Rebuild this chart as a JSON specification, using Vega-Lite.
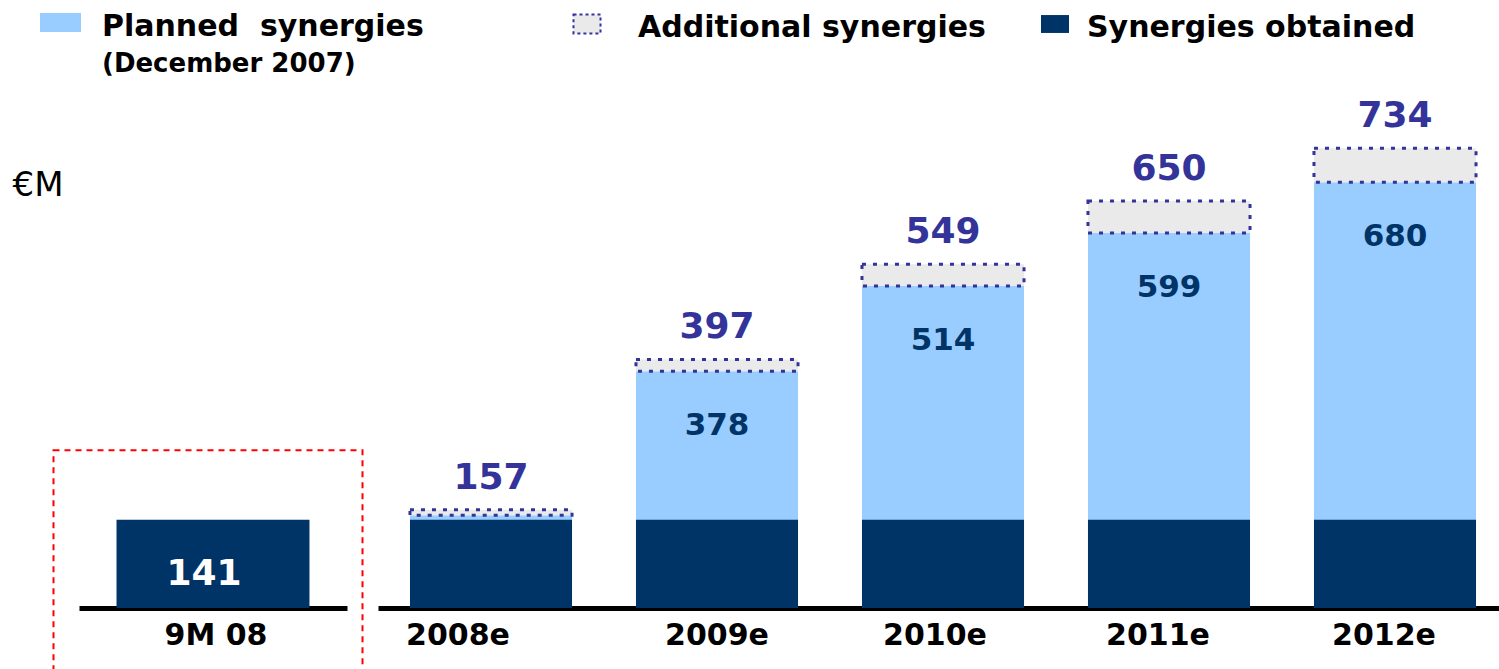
{
  "$schema": "https://vega.github.io/schema/vega-lite/v6.json",
  "padding": {"left": 12, "top": 2, "right": 0, "bottom": 0},
  "background": "white",
  "bounds": "flush",
  "spacing": 31,
  "config": {"view": {"stroke": null}, "font": "DejaVu Sans"},
  "datasets": {
    "ytd": [{"period": "9M 08", "obtained": 141}],
    "plan": [
      {"period": "2008e", "obtained": 141, "planned": 148, "total": 157},
      {"period": "2009e", "obtained": 141, "planned": 378, "total": 397},
      {"period": "2010e", "obtained": 141, "planned": 514, "total": 549},
      {"period": "2011e", "obtained": 141, "planned": 599, "total": 650},
      {"period": "2012e", "obtained": 141, "planned": 680, "total": 734}
    ]
  },
  "hconcat": [
    {
      "width": 268,
      "height": 501,
      "data": {"name": "ytd"},
      "encoding": {
        "x": {
          "field": "period", "type": "nominal",
          "scale": {"paddingInner": 0, "paddingOuter": 0},
          "axis": {"title": null, "labelAngle": 0, "labelFont": "DejaVu Sans", "labelFontWeight": "bold", "labelFontSize": 30, "labelColor": "black", "labelPadding": 12, "labelBaseline": "top", "ticks": false, "domainColor": "black", "domainWidth": 5, "labelOffset": 3}
        }
      },
      "layer": [
        {
          "mark": {"type": "bar", "fill": "transparent", "stroke": "#FF0000", "strokeWidth": 2, "strokeDash": [6, 5], "width": {"band": 1.153}, "xOffset": -5},
          "encoding": {
            "y": {"datum": 252, "type": "quantitative", "scale": {"domain": [0, 800], "nice": false},
              "axis": {"title": "€M", "titleAngle": 0, "titleX": -67, "titleY": 78, "titleAlign": "left", "titleBaseline": "middle", "titleFont": "DejaVu Sans", "titleFontWeight": "normal", "titleFontSize": 34, "titleColor": "black", "labels": false, "ticks": false, "domain": false, "grid": false}},
            "y2": {"datum": -160}
          }
        },
        {
          "mark": {"type": "bar", "color": "#003366", "width": {"band": 0.72}},
          "encoding": {
            "y": {"field": "obtained", "type": "quantitative", "scale": {"domain": [0, 800], "nice": false},
              "axis": {"title": "€M", "titleAngle": 0, "titleX": -67, "titleY": 78, "titleAlign": "left", "titleBaseline": "middle", "titleFont": "DejaVu Sans", "titleFontWeight": "normal", "titleFontSize": 34, "titleColor": "black", "labels": false, "ticks": false, "domain": false, "grid": false}}
          }
        },
        {
          "mark": {"type": "text", "color": "white", "fontSize": 36, "fontWeight": "bold", "font": "DejaVu Sans", "dy": 54, "dx": -9, "baseline": "middle"},
          "encoding": {
            "y": {"field": "obtained", "type": "quantitative"},
            "text": {"field": "obtained"}
          }
        }
      ]
    },
    {
      "width": 1130,
      "height": 501,
      "data": {"name": "plan"},
      "encoding": {
        "x": {
          "field": "period", "type": "nominal",
          "scale": {"paddingInner": 0, "paddingOuter": 0},
          "axis": {"title": null, "labelAngle": 0, "labelFont": "DejaVu Sans", "labelFontWeight": "bold", "labelFontSize": 30, "labelColor": "black", "labelPadding": 12, "labelBaseline": "top", "ticks": false, "domainColor": "black", "domainWidth": 5,
            "labelOffset": {"condition": [{"test": "datum.value === '2008e'", "value": -33}, {"test": "datum.value === '2010e'", "value": -8}, {"test": "datum.value === '2011e' || datum.value === '2012e'", "value": -11}], "value": 0}}
        }
      },
      "layer": [
        {
          "mark": {"type": "bar", "width": {"band": 0.717}},
          "encoding": {
            "y": {"field": "planned", "type": "quantitative", "scale": {"domain": [0, 800], "nice": false}, "axis": null},
            "fill": {"datum": "Planned\u00a0 synergies", "type": "nominal", "scale": {"range": ["#99CCFF"]},
              "legend": {"orient": "none", "legendX": -338, "legendY": -105, "title": "(December 2007)", "titleOrient": "bottom", "titleAnchor": "start", "titleFont": "DejaVu Sans", "titleFontSize": 26, "titleFontWeight": "bold", "titleColor": "black", "titlePadding": 4, "titleLimit": 1000,
                "symbolType": "M-1,-0.46H1V0.46H-1Z", "symbolSize": 1681, "symbolStrokeWidth": 0,
                "labelFont": "DejaVu Sans", "labelFontWeight": "bold", "labelFontSize": 30, "labelColor": "black", "labelOffset": 21, "labelLimit": 1000,
                "encode": {"title": {"update": {"dx": {"value": 62}, "dy": {"value": 5}}}, "labels": {"update": {"dy": {"value": 4}}}}}}
          }
        },
        {
          "mark": {"type": "bar", "width": {"band": 0.717}, "stroke": "#333399", "strokeWidth": 3, "strokeDash": [4, 7]},
          "encoding": {
            "y": {"field": "total", "type": "quantitative", "axis": null},
            "y2": {"field": "planned"},
            "fill": {"datum": "Additional synergies", "type": "nominal", "scale": {"range": ["#EAEAEA"]},
              "legend": {"orient": "none", "legendX": 194, "legendY": -98, "title": null,
                "symbolType": "M-1,-0.7H1V0.7H-1Z", "symbolSize": 729, "symbolStrokeColor": "#333399", "symbolStrokeWidth": 2, "symbolDash": [3, 3],
                "labelFont": "DejaVu Sans", "labelFontWeight": "bold", "labelFontSize": 30, "labelColor": "black", "labelOffset": 36, "labelLimit": 1000,
                "encode": {"labels": {"update": {"dy": {"value": 4}}}}}}
          }
        },
        {
          "mark": {"type": "text", "color": "#003366", "fontSize": 31, "fontWeight": "bold", "font": "DejaVu Sans", "dy": 55, "baseline": "middle"},
          "encoding": {
            "y": {"field": "planned", "type": "quantitative", "axis": null},
            "text": {"field": "planned"}
          }
        },
        {
          "mark": {"type": "bar", "width": {"band": 0.717}},
          "encoding": {
            "y": {"field": "obtained", "type": "quantitative", "axis": null},
            "fill": {"datum": "Synergies obtained", "type": "nominal", "scale": {"range": ["#003366"]},
              "legend": {"orient": "none", "legendX": 662, "legendY": -98, "title": null,
                "symbolType": "M-1,-0.64H1V0.64H-1Z", "symbolSize": 784, "symbolStrokeWidth": 0,
                "labelFont": "DejaVu Sans", "labelFontWeight": "bold", "labelFontSize": 30, "labelColor": "black", "labelOffset": 17, "labelLimit": 1000,
                "encode": {"labels": {"update": {"dy": {"value": 4}}}}}}
          }
        },
        {
          "mark": {"type": "text", "color": "#333399", "fontSize": 36, "fontWeight": "bold", "font": "DejaVu Sans", "dy": -32, "baseline": "middle"},
          "encoding": {
            "y": {"field": "total", "type": "quantitative", "axis": null},
            "text": {"field": "total"}
          }
        }
      ],
      "resolve": {"scale": {"fill": "independent"}, "legend": {"fill": "independent"}}
    }
  ]
}
